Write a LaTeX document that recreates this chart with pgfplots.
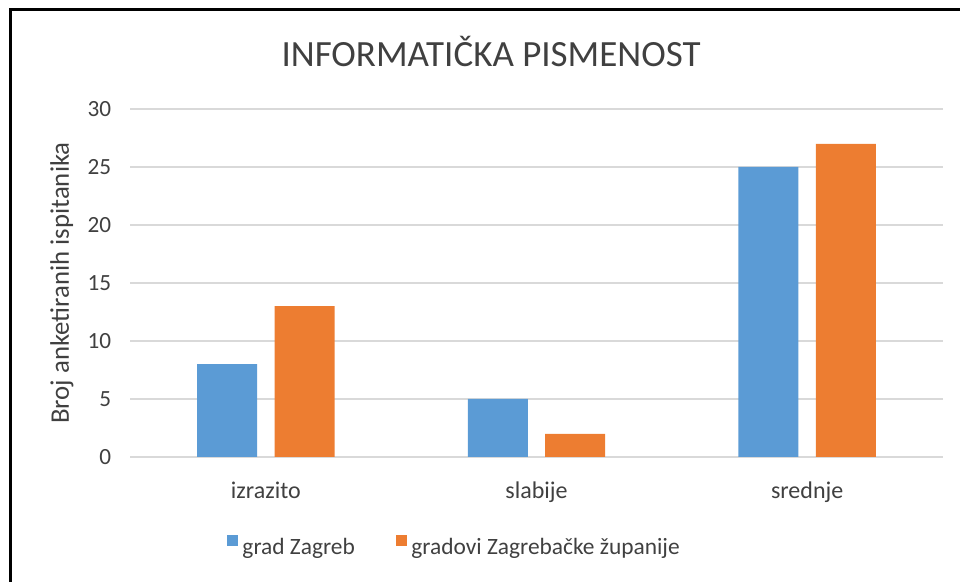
\documentclass[border=0pt]{standalone}
\usepackage{fontspec}
\setmainfont{Carlito}
\usepackage{pgfplots}
\pgfplotsset{compat=1.18}
\definecolor{zgblue}{HTML}{5B9BD5}
\definecolor{zgorange}{HTML}{ED7D31}
\definecolor{gridgray}{HTML}{D9D9D9}
\definecolor{txt}{HTML}{404040}

\begin{document}
\begin{tikzpicture}
% page = 960x582 px at 0.5pt per px
\useasboundingbox (0,0) rectangle (480pt,291pt);
\draw[line width=1.5pt] (5pt,0) -- (5pt,286pt) -- (480pt,286pt);
\begin{axis}[
    at={(65.25pt,62.5pt)},
    anchor=south west,
    scale only axis,
    width=406pt,
    height=174pt,
    xmin=-0.5, xmax=2.5,
    ymin=0, ymax=30,
    xtick={0,1,2},
    xticklabels={izrazito,slabije,srednje},
    ytick={0,5,...,30},
    axis line style={draw=none},
    tick style={draw=none},
    ymajorgrids,
    grid style={draw=gridgray, line width=0.7pt},
    /pgf/number format/assume math mode=true,
    font=\fontsize{11.6}{14}\selectfont,
    every tick label/.append style={text=txt},
    yticklabel style={anchor=east, inner sep=0pt, xshift=-9.5pt},
    xticklabel style={anchor=base, inner sep=0pt, yshift=-21pt, font=\fontsize{12}{14}\selectfont},
    ylabel={Broj anketiranih ispitanika},
    ylabel style={at={(axis description cs:-0.0844,0.5)}, anchor=center, rotate=0,
        text=txt, font=\fontsize{13.4}{16}\selectfont},
    title={INFORMATIČKA PISMENOST},
    title style={at={(axis description cs:0.444,1.088)}, anchor=base, inner sep=0pt,
        yshift=0pt, font=\fontsize{18.5}{22}\selectfont, text=txt},
    legend columns=2,
    legend style={at={(axis description cs:0.400,-0.2615)}, anchor=center,
        draw=none, fill=none, inner sep=0pt, text=txt,
        font=\fontsize{11.7}{14}\selectfont,
        /tikz/every even column/.append style={column sep=18.5pt}},
    legend cell align=left,
    legend image code/.code={\fill[#1,draw=none] (0pt,0.8pt) rectangle (5.8pt,6.6pt);},
]
\addplot[ybar, bar width=30pt, bar shift=-19.35pt, fill=zgblue, draw=none]
    coordinates {(0,8) (1,5) (2,25)};
\addlegendentry{grad Zagreb}
\addplot[ybar, bar width=30pt, bar shift=19.35pt, fill=zgorange, draw=none]
    coordinates {(0,13) (1,2) (2,27)};
\addlegendentry{gradovi Zagrebačke županije}
\end{axis}
\end{tikzpicture}
\end{document}
